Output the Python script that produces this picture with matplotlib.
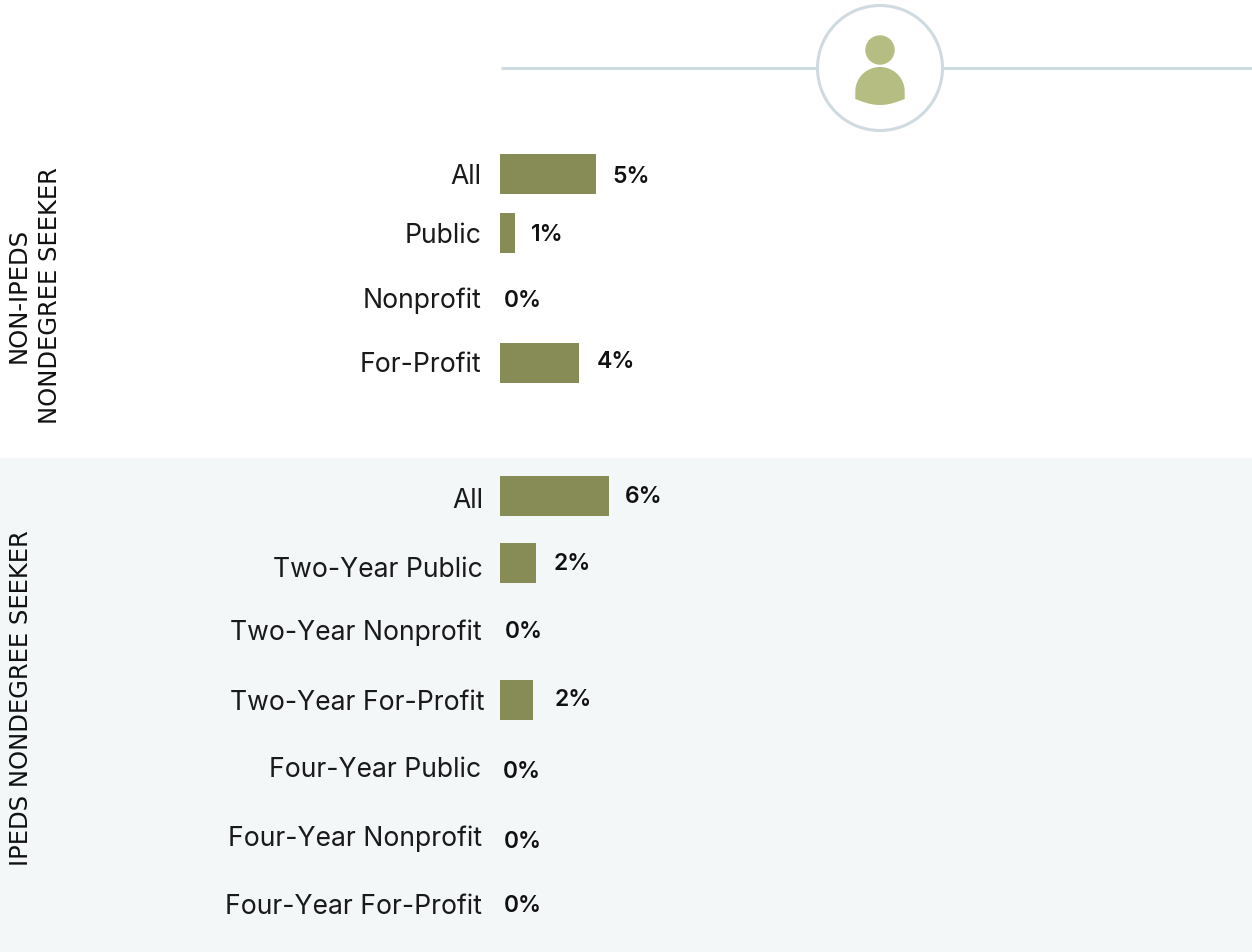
import matplotlib
matplotlib.use('Agg')
from matplotlib import pyplot as plt
from matplotlib.patches import Circle, Rectangle, Polygon
import numpy as np

# labels and values, top panel then bottom panel
top_labels = ['All', 'Public', 'Nonprofit', 'For-Profit']
top_values = [5.3, 0.8, 0, 4.35]
top_text = ['5%', '1%', '0%', '4%']
bottom_labels = ['All', 'Two-Year Public', 'Two-Year Nonprofit', 'Two-Year For-Profit',
                 'Four-Year Public', 'Four-Year Nonprofit', 'Four-Year For-Profit']
bottom_values = [6.0, 2.0, 0, 1.8, 0, 0, 0]
bottom_text = ['6%', '2%', '0%', '2%', '0%', '0%', '0%']
top_title = 'NON-IPEDS\nNONDEGREE SEEKER'
bottom_title = 'IPEDS NONDEGREE SEEKER'

# layout in pixels, y values of text are baselines
W, H = 1252, 952
PX_PER_PCT = 18.2
BAR_X = 500
top_bar_y = [174, 233, 299, 363]
top_label_y = [184, 243, 308, 372]
top_text_y = [183, 241, 307, 368]
top_text_x = [612, 531, 504, 597]
top_label_right = [481, 481, 481, 481]
bottom_bar_y = [496, 563, 630, 700, 769, 839, 904]
bottom_label_y = [508, 577, 640, 710, 777, 846, 914]
bottom_text_y = [503, 570, 638, 706, 778, 848, 912]
bottom_text_x = [625, 554, 505, 555, 503, 504, 504]
bottom_label_right = [483, 483, 482, 484, 481, 482, 482]

OLIVE = '#878c56'
ICON = '#b5bd82'
LINE = '#cfdbe0'
PANEL = '#f3f7f8'
FONT = 'Inter'

fig = plt.figure(figsize=(W / 100, H / 100), dpi=100, facecolor='white')

# background and icon are drawn in pixel coordinates
bg = fig.add_axes([0, 0, 1, 1])
bg.set_xlim(0, W)
bg.set_ylim(H, 0)
bg.axis('off')
bg.add_patch(Rectangle((0, 458), W, H - 458, fc=PANEL, ec='none'))
bg.plot([501, W], [67.5, 67.5], color=LINE, lw=2.2, solid_capstyle='butt')
bg.add_patch(Circle((880, 68), 62.5, fc='white', ec=LINE, lw=2.2, zorder=3))
bg.add_patch(Circle((880, 50), 14.7, fc=ICON, ec='none', zorder=4))
# shoulders: half disc with a curved bottom
t = np.linspace(np.pi, 2 * np.pi, 60)
arc_top = np.column_stack([880 + 24.7 * np.cos(t), 91.5 + 24.5 * np.sin(t)])
t2 = np.linspace(0, 1, 30)
arc_bot = np.column_stack([904.7 - 49.4 * t2, 99 + 6 * np.sin(np.pi * t2)])
bg.add_patch(Polygon(np.vstack([arc_top, arc_bot]), closed=True, fc=ICON, ec='none', zorder=4))

# bars use a percent x scale
ax = fig.add_axes([0, 0, 1, 1])
ax.set_xlim(-BAR_X / PX_PER_PCT, (W - BAR_X) / PX_PER_PCT)
ax.set_ylim(H, 0)
ax.axis('off')
ax.patch.set_alpha(0)


def draw_panel(labels, values, text, bar_y, label_y, text_y, text_x, label_right):
    ax.barh(bar_y, values, height=40, color=OLIVE, linewidth=0)
    for i in range(len(labels)):
        ax.text((label_right[i] - BAR_X) / PX_PER_PCT, label_y[i], labels[i], ha='right',
                va='baseline', fontsize=19.1, family=FONT, color='#1a1a1a')
        ax.text((text_x[i] - BAR_X) / PX_PER_PCT, text_y[i], text[i], ha='left', va='baseline',
                fontsize=16.5, family=FONT, fontweight='semibold', color='#111111')


draw_panel(top_labels, top_values, top_text, top_bar_y, top_label_y, top_text_y,
           top_text_x, top_label_right)
draw_panel(bottom_labels, bottom_values, bottom_text, bottom_bar_y, bottom_label_y,
           bottom_text_y, bottom_text_x, bottom_label_right)

bg.text(34.5, 295.5, top_title, rotation=90, ha='center', va='center', fontsize=17.5,
        family='DejaVu Sans', color='#111111', linespacing=1.36, multialignment='center')
bg.text(21, 698, bottom_title, rotation=90, ha='center', va='center', fontsize=17.5,
        family='DejaVu Sans', color='#111111')

fig.savefig('out.png', dpi=100)
